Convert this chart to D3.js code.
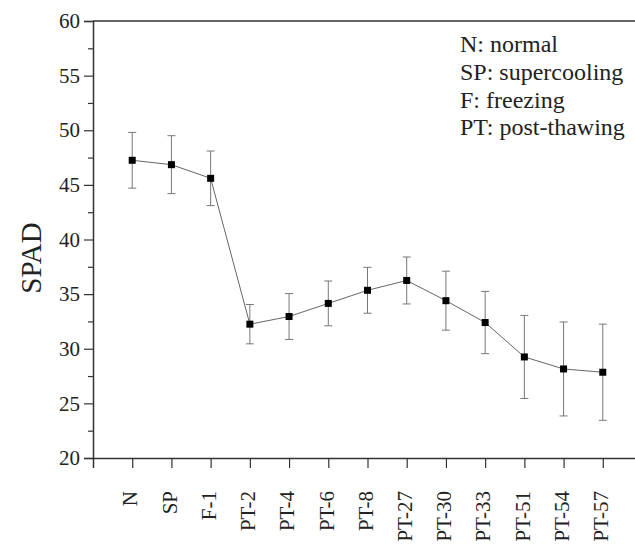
<!DOCTYPE html>
<html>
<head>
<meta charset="utf-8">
<script src="https://cdn.jsdelivr.net/npm/d3@7"></script>
<style>
    body { margin: 0; background: #fff; }
    svg text { font-family: "Liberation Serif", serif !important; fill: #222; }
</style>
</head>
<body>
<div id="chart1"></div>
<script>
// data
const stages = ["N", "SP", "F-1", "PT-2", "PT-4", "PT-6", "PT-8", "PT-27", "PT-30", "PT-33", "PT-51", "PT-54", "PT-57"];
const spadMean = [47.25, 46.85, 45.6, 32.25, 32.95, 34.15, 35.35, 36.25, 34.4, 32.4, 29.25, 28.15, 27.85];
const spadErr = [2.55, 2.65, 2.5, 1.8, 2.1, 2.05, 2.1, 2.15, 2.7, 2.85, 3.8, 4.3, 4.4];
const yTicks = [20, 25, 30, 35, 40, 45, 50, 55, 60];
const yMinorTicks = [22.5, 27.5, 32.5, 37.5, 42.5, 47.5, 52.5, 57.5];
const legendLines = ["N: normal", "SP: supercooling", "F: freezing", "PT: post-thawing"];

const data = stages.map((s, i) => ({ stage: s, pos: i + 1, value: spadMean[i], err: spadErr[i] }));

const totalW = 635, totalH = 549;
const margin = { top: 21, left: 93 };
const width = 549;      // right frame sits just past the window edge
const height = 437;
const serif = "Liberation Serif, serif";

const svg = d3.select("#chart1").append("svg")
    .attr("width", totalW)
    .attr("height", totalH)
    .attr("font-family", serif);

const x = d3.scaleLinear().domain([0, 14]).range([0, width]);
const y = d3.scaleLinear().domain([20, 60]).range([height, 0]);

const g = svg.append("g").attr("transform", `translate(${margin.left},${margin.top})`);

const axisColor = "#333";

// frame: top and right
g.append("line")
    .attr("x1", 0).attr("x2", width).attr("y1", 0).attr("y2", 0)
    .attr("stroke", axisColor).attr("stroke-width", 1.5);
g.append("line")
    .attr("x1", width).attr("x2", width).attr("y1", 0).attr("y2", height)
    .attr("stroke", axisColor).attr("stroke-width", 1.5);

// y axis
const yAxis = d3.axisLeft(y).tickValues(yTicks).tickSize(9).tickPadding(4).tickFormat(d3.format("d"));
const yG = g.append("g").call(yAxis).attr("font-family", serif);
yG.select(".domain").attr("stroke", axisColor).attr("stroke-width", 1.5);
yG.selectAll(".tick line").attr("stroke", axisColor).attr("stroke-width", 1.2);
yG.selectAll(".tick text")
    .attr("font-size", 21)
    .attr("font-family", serif)
    .attr("fill", "#222");

const yMinor = d3.axisLeft(y).tickValues(yMinorTicks).tickSize(5).tickFormat("");
const yMinorG = g.append("g").call(yMinor);
yMinorG.select(".domain").remove();
yMinorG.selectAll(".tick line").attr("stroke", axisColor).attr("stroke-width", 1.2);

// x axis
const xAxis = d3.axisBottom(x).tickValues(data.map(d => d.pos)).tickSize(10).tickFormat("");
const xG = g.append("g").attr("transform", `translate(0,${height})`).call(xAxis);
xG.select(".domain").attr("stroke", axisColor).attr("stroke-width", 1.5);
xG.selectAll(".tick line").attr("stroke", axisColor).attr("stroke-width", 1.2);

g.selectAll("text.xlab")
    .data(data)
    .join("text")
    .attr("class", "xlab")
    .attr("transform", d => `translate(${x(d.pos)},${height + 33}) rotate(-90)`)
    .attr("dy", "0.25em")
    .attr("text-anchor", "end")
    .attr("font-size", 21)
    .attr("font-family", serif)
    .text(d => d.stage);

// y label
svg.append("text")
    .attr("transform", "translate(41,258) rotate(-90)")
    .attr("text-anchor", "middle")
    .attr("font-size", 29)
    .attr("font-family", serif)
    .text("SPAD");

// error bars
const eb = g.append("g").attr("stroke", "#777").attr("stroke-width", 1);
eb.selectAll("line.stem")
    .data(data)
    .join("line")
    .attr("class", "stem")
    .attr("x1", d => x(d.pos)).attr("x2", d => x(d.pos))
    .attr("y1", d => y(d.value + d.err)).attr("y2", d => y(d.value - d.err));
eb.selectAll("line.capTop")
    .data(data)
    .join("line")
    .attr("class", "capTop")
    .attr("x1", d => x(d.pos) - 4).attr("x2", d => x(d.pos) + 4)
    .attr("y1", d => y(d.value + d.err)).attr("y2", d => y(d.value + d.err));
eb.selectAll("line.capBot")
    .data(data)
    .join("line")
    .attr("class", "capBot")
    .attr("x1", d => x(d.pos) - 4).attr("x2", d => x(d.pos) + 4)
    .attr("y1", d => y(d.value - d.err)).attr("y2", d => y(d.value - d.err));

// connecting line
const line = d3.line().x(d => x(d.pos)).y(d => y(d.value));
g.append("path")
    .datum(data)
    .attr("d", line)
    .attr("fill", "none")
    .attr("stroke", "#666")
    .attr("stroke-width", 1);

// square markers
g.selectAll("rect.pt")
    .data(data)
    .join("rect")
    .attr("class", "pt")
    .attr("x", d => x(d.pos) - 3.5)
    .attr("y", d => y(d.value) - 3.5)
    .attr("width", 7)
    .attr("height", 7)
    .attr("fill", "#000");

// legend text
svg.append("g").selectAll("text")
    .data(legendLines)
    .join("text")
    .attr("x", 460)
    .attr("y", (d, i) => 52 + i * 27.8)
    .attr("font-size", 24)
    .attr("font-family", serif)
    .text(d => d);
</script>
</body>
</html>
